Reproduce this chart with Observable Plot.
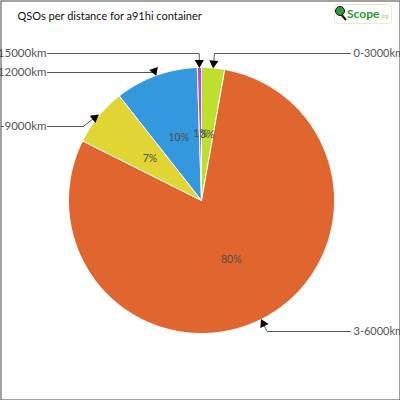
<!DOCTYPE html>
<html>
<head>
<meta charset="utf-8">
<script src="https://cdn.jsdelivr.net/npm/d3@7"></script>
<script src="https://cdn.jsdelivr.net/npm/@observablehq/plot@0.6"></script>
<style>
  html, body { margin: 0; padding: 0; background: #fff; }
  #chart svg { display: block; }
</style>
</head>
<body>
<div id="chart"></div>
<script>
// ---- data ----
const categories = ["0-3000km", "3-6000km", "6-9000km", "9-12000km", "12-15000km"];
const shares = [2.8, 79.6, 7.0, 10.1, 0.5];          // percent of QSOs
const colors = ["#bddf2e", "#e0652f", "#e0d532", "#3498de", "#c43fe0"];
const titleText = "QSOs per distance for a91hi container";
// label rows (pixel y of each outside label), layout only
const labelRowsPx = [53, 331, 126, 72, 53];

// ---- layout ----
const W = 400, H = 400, R = 133, CX = 201, CY = 200;
const font = "Lato, 'DejaVu Sans', sans-serif";

const arcs = d3.pie().sort(null).value(d => d)(shares);

// slice polygons in unit-circle coords (y up), angles clockwise from top
const polys = [];
arcs.forEach((a, i) => {
  const cat = categories[i];
  polys.push({cat, x: 0, y: 0});
  const n = Math.max(2, Math.ceil((a.endAngle - a.startAngle) / 0.01));
  for (let k = 0; k <= n; k++) {
    const t = a.startAngle + (a.endAngle - a.startAngle) * k / n;
    polys.push({cat, x: Math.sin(t), y: Math.cos(t)});
  }
  polys.push({cat, x: 0, y: 0});
});

// percent labels
const pctRows = arcs.map((a, i) => {
  const m = (a.startAngle + a.endAngle) / 2;
  return {cat: categories[i], x: 0.5 * Math.sin(m), y: 0.5 * Math.cos(m), text: Math.round(shares[i]) + "%"};
});

// leader lines
const leaders = [], arrows = [], outLabels = [];
arcs.forEach((a, i) => {
  const cat = categories[i];
  const m = (a.startAngle + a.endAngle) / 2;
  const s = Math.sin(m), c = Math.cos(m);
  const ax = 1.01 * s, ay = 1.01 * c;
  const side = s >= 0 ? 1 : -1;
  const ly = (CY - labelRowsPx[i]) / R;
  let ex;
  const dy = ly - ay;
  if (Math.sign(dy) === Math.sign(c) && Math.abs(c) > 1e-6) {
    ex = ax + (dy / c) * s;
  } else {
    ex = ax + side * Math.abs(dy) * 1.3;
  }
  const lx = side > 0 ? (350 - CX) / R : (47 - CX) / R;
  leaders.push({cat, x: ax, y: ay}, {cat, x: ex, y: ly}, {cat, x: lx, y: ly});
  // arrow direction in screen pixels (elbow -> arc point)
  const dxs = (ax - ex) * R, dys = -(ay - ly) * R;
  const len = Math.hypot(dxs, dys) || 1;
  const rot = Math.atan2(dxs, -dys) * 180 / Math.PI;
  const back = 3.5 / len;
  arrows.push({cat, x: ax - (ax - ex) * back, y: ay - (ay - ly) * back, rot});
  outLabels.push({cat, side, x: side > 0 ? (353 - CX) / R : (46 - CX) / R, y: ly});
});

const chart = Plot.plot({
  width: W, height: H,
  margin: 0,
  x: {domain: [-CX / R, (W - CX) / R], axis: null},
  y: {domain: [-(H - CY) / R, CY / R], axis: null},
  color: {domain: categories, range: colors},
  style: {fontFamily: font, background: "#fff"},
  marks: [
    Plot.line(polys, {x: "x", y: "y", z: "cat", fill: "cat", stroke: "white", strokeWidth: 1, strokeLinejoin: "round", curve: "linear"}),
    Plot.text(pctRows, {x: "x", y: "y", text: "text", fill: "#4d4d4d", fontSize: 10.5}),
    Plot.line(leaders, {x: "x", y: "y", z: "cat", stroke: "#555", strokeWidth: 1}),
    Plot.dot(arrows, {x: "x", y: "y", symbol: "triangle", r: 3.4, fill: "#000", stroke: "none", rotate: "rot"}),
    Plot.text(outLabels.filter(d => d.side > 0), {x: "x", y: "y", text: "cat", textAnchor: "start", fill: "#555", fontSize: 11}),
    Plot.text(outLabels.filter(d => d.side < 0), {x: "x", y: "y", text: "cat", textAnchor: "end", fill: "#555", fontSize: 11.5}),
    Plot.text([titleText], {frameAnchor: "top-left", dx: 17, dy: 12, textAnchor: "start", lineAnchor: "top", fill: "#111", fontSize: 11}),
    Plot.frame({stroke: "#444", strokeWidth: 1, inset: 0.5})
  ]
});

// logo (decoration)
const svg = d3.select(chart);
const g = svg.append("g").attr("font-family", font).attr("text-anchor", "start");
g.append("rect").attr("x", 334.5).attr("y", 4.5).attr("width", 57).attr("height", 19).attr("rx", 3)
  .attr("fill", "#fff").attr("stroke", "#e6ecd2");
g.append("line").attr("x1", 340).attr("y1", 13).attr("x2", 346).attr("y2", 20).attr("stroke", "#111").attr("stroke-width", 2);
g.append("circle").attr("cx", 340).attr("cy", 11).attr("r", 4.5).attr("fill", "#2e9a3a").attr("stroke", "#111").attr("stroke-width", 1);
g.append("text").attr("x", 347).attr("y", 18).attr("font-size", 12).attr("font-weight", "bold").attr("fill", "#1f9a2a").attr("text-anchor", "start").text("Scope");
g.append("text").attr("x", 380).attr("y", 18).attr("font-size", 5).attr("fill", "#9acb6c").attr("text-anchor", "start").text(".org");

document.getElementById("chart").appendChild(chart);
</script>
</body>
</html>
